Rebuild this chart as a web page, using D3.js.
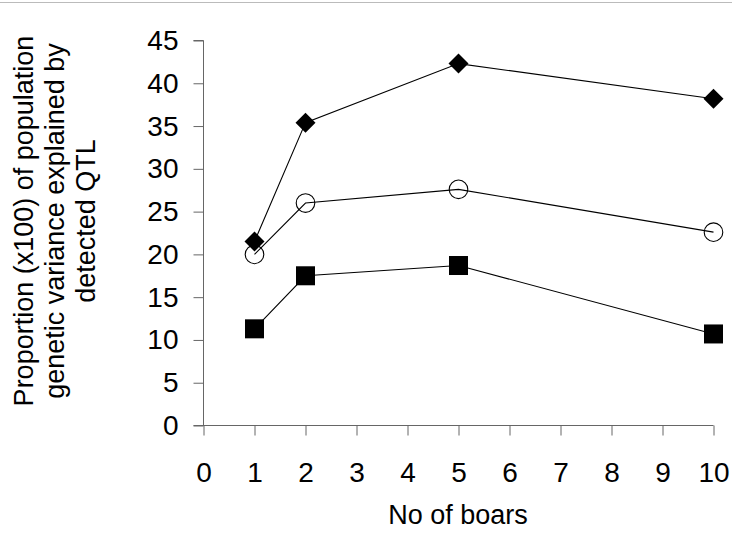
<!DOCTYPE html>
<html><head><meta charset="utf-8">
<script src="https://cdn.jsdelivr.net/npm/d3@7"></script>
<style>body{margin:0;background:#fff}svg{display:block}text{font-family:"Liberation Sans",Arial,sans-serif}</style>
</head><body>
<svg id="c" width="732" height="536"></svg>
<script>
const boars = [1, 2, 5, 10];
const diamondSeries = [21.5, 35.4, 42.3, 38.2];
const circleSeries = [20.0, 26.0, 27.6, 22.6];
const squareSeries = [11.3, 17.5, 18.7, 10.7];
const xTicks = [0,1,2,3,4,5,6,7,8,9,10];
const yTicks = [0,5,10,15,20,25,30,35,40,45];
const yLabelLines = ["Proportion (x100) of population", "genetic variance explained by", "detected QTL"];
const xLabel = "No of boars";

const svg = d3.select("#c");
svg.append("line").attr("x1",0).attr("x2",732).attr("y1",2.5).attr("y2",2.5).attr("stroke","#bbb").attr("stroke-width",1);

const x = d3.scaleLinear().domain([0,10]).range([203.5,713.5]);
const y = d3.scaleLinear().domain([0,45]).range([425.5,40.5]);

const xa = svg.append("g").attr("transform","translate(0,425.5)")
  .call(d3.axisBottom(x).tickValues(xTicks).tickSize(10).tickPadding(27).tickFormat(d3.format("d")));
const ya = svg.append("g").attr("transform","translate(203.5,0)")
  .call(d3.axisLeft(y).tickValues(yTicks).tickSize(10).tickPadding(15).tickFormat(d3.format("d")));
[xa,ya].forEach(a=>{
  a.select(".domain").attr("stroke","#666");
  a.selectAll(".tick line").attr("stroke","#666");
  a.selectAll("text").attr("font-size",28).attr("fill","#000").style("font-family","'Liberation Sans',Arial,sans-serif");
});
xa.select(".domain").attr("d","M193.5,0H713.5");
ya.select(".domain").attr("d","M-10,40.5H0V425.5");

const line = d3.line().x((d,i)=>x(boars[i])).y(d=>y(d));
const series = [
  {vals: diamondSeries, type: "diamond"},
  {vals: circleSeries, type: "circle"},
  {vals: squareSeries, type: "square"}
];
series.forEach(s=>{
  svg.append("path").attr("d",line(s.vals)).attr("fill","none").attr("stroke","#000").attr("stroke-width",1.1);
});
series.forEach(s=>{
  const g = svg.append("g");
  s.vals.forEach((v,i)=>{
    const cx = x(boars[i]), cy = y(v);
    if(s.type==="diamond"){
      g.append("path").attr("d",`M${cx},${cy-10}L${cx+10},${cy}L${cx},${cy+10}L${cx-10},${cy}Z`).attr("fill","#000");
    } else if(s.type==="circle"){
      g.append("circle").attr("cx",cx).attr("cy",cy).attr("r",9.3).attr("fill","none").attr("stroke","#000").attr("stroke-width",1.1);
    } else {
      g.append("rect").attr("x",cx-9.5).attr("y",cy-9.5).attr("width",19).attr("height",19).attr("fill","#000");
    }
  });
});

const yl = svg.append("text").attr("transform","translate(0,221) rotate(-90)").attr("text-anchor","middle").attr("font-size",27).attr("fill","#000");
const baselines = [33, 64, 95];
yLabelLines.forEach((t,i)=>{
  yl.append("tspan").attr("x",0).attr("y", baselines[i]).text(t);
});
svg.append("text").attr("x",458).attr("y",524).attr("text-anchor","middle").attr("font-size",27).attr("fill","#000").text(xLabel);
</script>
</body></html>
